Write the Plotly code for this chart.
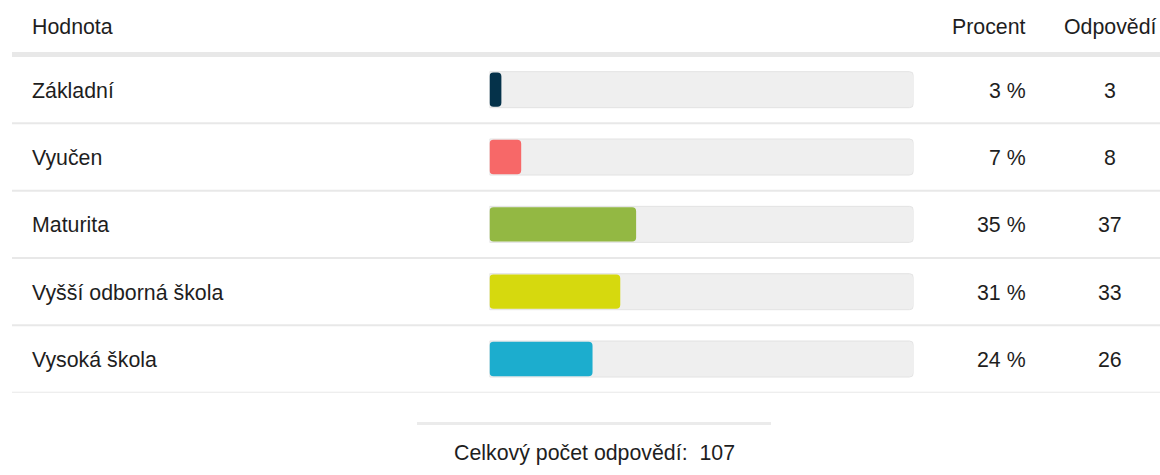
import plotly.graph_objects as go

categories = ["Základní", "Vyučen", "Maturita", "Vyšší odborná škola", "Vysoká škola"]
counts = [3, 8, 37, 33, 26]
percents = [3, 7, 35, 31, 24]
colors = ["#05324a", "#f76868", "#93b843", "#d6d90e", "#1cadce"]
total = 107
headers = ["Hodnota", "Procent", "Odpovědí"]
footer_label = "Celkový počet odpovědí:"

W, H = 1160, 475
FONT = "Liberation Sans, Arial, sans-serif"
FS = 21.33
TXT = "#1e1e1e"

fractions = [c / total for c in counts]
ycats = list(range(len(categories)))

fig = go.Figure()
# track backgrounds
fig.add_trace(go.Bar(
    y=ycats, x=[1.0] * len(categories), orientation="h",
    marker=dict(color="#efefef", line=dict(color="#e3e3e3", width=1), cornerradius=4),
    width=0.535, hoverinfo="skip", showlegend=False,
))
# value bars (drawn from the value back to zero so the rounded end is on the left)
fig.add_trace(go.Bar(
    y=ycats, x=[-f for f in fractions], base=fractions, orientation="h",
    marker=dict(color=colors, line=dict(width=0), cornerradius=4),
    width=0.51, hoverinfo="skip", showlegend=False,
))

def px(x):
    return x / W

def py(y):
    return 1 - y / H

annotations = []
for i, cat in enumerate(categories):
    annotations.append(dict(x=px(30), y=i, xref="paper", yref="y", text=cat,
                            xanchor="left", yanchor="middle", showarrow=False, yshift=-1))
    annotations.append(dict(x=px(1028), y=i, xref="paper", yref="y", text=f"{percents[i]} %",
                            xanchor="right", yanchor="middle", showarrow=False, yshift=-1))
    annotations.append(dict(x=px(1110), y=i, xref="paper", yref="y", text=str(counts[i]),
                            xanchor="center", yanchor="middle", showarrow=False, yshift=-1))

annotations.append(dict(x=px(30), y=py(27), xref="paper", yref="paper", text=headers[0],
                        xanchor="left", yanchor="middle", showarrow=False))
annotations.append(dict(x=px(1028), y=py(27), xref="paper", yref="paper", text=headers[1],
                        xanchor="right", yanchor="middle", showarrow=False))
annotations.append(dict(x=px(1110), y=py(27), xref="paper", yref="paper", text=headers[2],
                        xanchor="center", yanchor="middle", showarrow=False))
annotations.append(dict(x=px(594), y=py(453), xref="paper", yref="paper",
                        text=f"{footer_label}  {total}",
                        xanchor="center", yanchor="middle", showarrow=False))

shapes = []
# header separator
shapes.append(dict(type="line", xref="paper", yref="paper", x0=px(12), x1=1,
                   y0=py(54.5), y1=py(54.5), line=dict(color="#e8e8e8", width=5)))
# row separators
for i in range(len(categories)):
    shapes.append(dict(type="line", xref="paper", yref="y", x0=px(12), x1=1,
                       y0=i + 0.5, y1=i + 0.5, line=dict(color="#e8e8e8", width=2)))
# footer separator
shapes.append(dict(type="line", xref="paper", yref="paper", x0=px(417), x1=px(771),
                   y0=py(423.5), y1=py(423.5), line=dict(color="#ebebeb", width=3)))

fig.update_layout(
    width=W, height=H,
    margin=dict(l=0, r=0, t=0, b=0),
    paper_bgcolor="white", plot_bgcolor="rgba(0,0,0,0)",
    barmode="overlay",
    font=dict(family=FONT, size=FS, color=TXT),
    xaxis=dict(domain=[px(489.5), px(913.5)], range=[0, 1], visible=False, fixedrange=True),
    yaxis=dict(domain=[1 - 392.7 / H, 1 - 56 / H], range=[len(categories) - 0.5, -0.5],
               visible=False, fixedrange=True),
    annotations=annotations,
    shapes=shapes,
    showlegend=False,
)

fig.write_html(
    "out.html",
    config={"displayModeBar": False},
    post_script="document.body.style.margin='0';document.body.style.overflow='hidden';",
)
